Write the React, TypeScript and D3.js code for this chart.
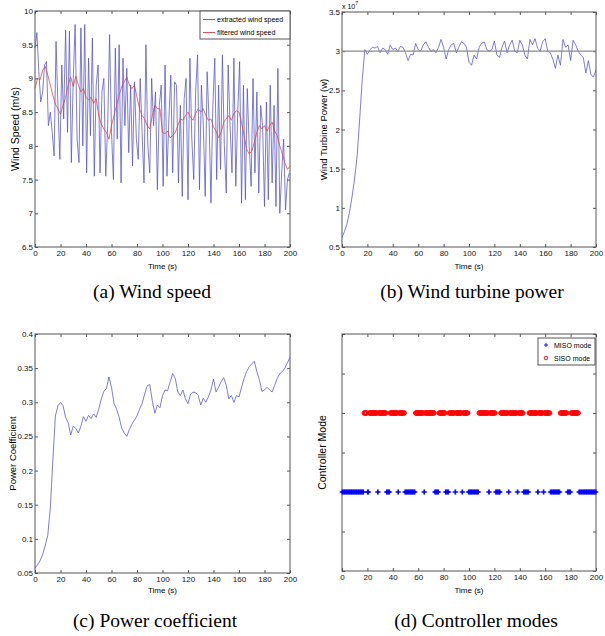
import { useEffect, useRef } from "react";
import * as d3 from "d3";

// ---- tick values ----
const TIME_TICKS = [0, 20, 40, 60, 80, 100, 120, 140, 160, 180, 200];
const SPEED_TICKS = [6.5, 7, 7.5, 8, 8.5, 9, 9.5, 10];
const POWER_TICKS = [0.5, 1, 1.5, 2, 2.5, 3, 3.5];
const CP_TICKS = [0.05, 0.1, 0.15, 0.2, 0.25, 0.3, 0.35, 0.4];
const MODE_TICKS = [0, 0.5, 1, 1.5, 2, 2.5, 3];

// ---- (a) wind speed, m/s ----
const EXTRACTED_STEP = 1.5;
const EXTRACTED_SPEED = [
  9.45, 9.68, 9.1, 8.65, 8.8, 9.2, 9.25, 8.3, 8.5, 8.2, 7.85, 9.55, 8.6, 7.8,
  9.2, 8.4, 9.72, 8.2, 9.7, 7.75, 9.0, 9.8, 8.1, 7.75, 9.75, 8.0, 9.8,
  7.6, 9.3, 8.15, 9.6, 7.55, 8.9, 9.2, 7.6, 8.8, 9.0, 7.55, 8.3, 9.65,
  8.2, 7.5, 9.45, 8.1, 9.5, 7.45, 9.3, 8.3, 9.15, 7.9, 8.9, 7.7, 8.95, 8.1,
  7.8, 9.0, 8.2, 7.45, 9.5, 8.0, 7.6, 9.0, 8.3, 8.8, 7.35, 8.6, 8.9,
  7.4, 9.2, 7.55, 8.4, 9.05, 7.6, 8.95, 8.9, 7.45, 8.6, 7.25, 8.7, 9.0,
  7.2, 9.3, 8.1, 7.5, 8.8, 9.35, 7.35, 8.9, 8.3, 7.25, 9.1, 8.4, 7.15, 8.6,
  9.3, 7.5, 8.9, 7.65, 9.35, 8.0, 7.3, 9.2, 8.3, 7.6, 9.3, 7.4, 8.5,
  9.25, 7.15, 8.9, 7.2, 8.85, 8.0, 7.4, 9.0, 7.6, 8.8, 7.3, 8.6, 8.3,
  7.1, 8.65, 7.2, 8.9, 7.45, 8.6, 7.1, 9.15, 7.0, 7.6, 8.1, 7.05, 7.5, 7.6,
];
const FILTERED_STEP = 2;
const FILTERED_SPEED = [
  8.85, 9.0, 8.98, 9.12, 9.18, 9.05, 8.9, 8.75, 8.62, 8.55,
  8.47, 8.6, 8.72, 8.9, 9.02, 8.88, 9.03, 8.9, 8.8, 8.85,
  8.72, 8.68, 8.72, 8.63, 8.7, 8.45, 8.32, 8.25, 8.2, 8.1,
  8.3, 8.45, 8.6, 8.75, 8.88, 8.95, 9.02, 8.9, 8.85, 8.9,
  8.72, 8.55, 8.45, 8.4, 8.3, 8.25, 8.45, 8.6, 8.55, 8.55,
  8.2, 8.18, 8.22, 8.12, 8.15, 8.2, 8.3, 8.4, 8.38, 8.45,
  8.5, 8.42, 8.38, 8.48, 8.55, 8.5, 8.55, 8.45, 8.38, 8.4,
  8.28, 8.22, 8.12, 8.2, 8.35, 8.4, 8.45, 8.38, 8.48, 8.52,
  8.5, 8.35, 8.15, 7.95, 7.88, 7.92, 8.05, 8.2, 8.3, 8.25,
  8.3, 8.22, 8.3, 8.35, 8.22, 8.15, 8.0, 7.88, 7.75, 7.65,
  7.7,
];

// ---- (b) wind turbine power, x10^7 W ----
const POWER_STEP = 2;
const TURBINE_POWER = [
  0.62, 0.7, 0.8, 0.95, 1.15, 1.38, 1.68, 2.15, 2.65, 3.02,
  2.96, 3.02, 3.05, 3.04, 3.06, 2.98, 3.04, 3.02, 2.96, 3.08,
  3.02, 3.04, 3.0, 3.06, 3.05, 2.98, 2.88, 2.96, 2.95, 3.1,
  3.02, 3.0, 3.08, 3.12, 3.05, 3.0, 3.02, 2.98, 3.05, 3.15,
  3.05, 2.9, 3.02, 3.08, 3.1, 2.98, 3.05, 3.12, 3.1, 3.05,
  2.86, 2.82, 2.95, 2.9, 3.05, 3.1, 3.12, 3.02, 3.0, 3.02,
  3.13, 2.95, 2.92, 3.05, 3.13, 2.98, 3.08, 3.14, 3.0, 2.98,
  3.14, 3.08, 2.95, 2.9, 3.15, 3.08, 3.16, 3.04, 3.0, 3.12,
  3.16, 3.0, 2.98, 2.9, 2.78, 2.95, 2.82, 3.15, 3.05, 3.08,
  2.88, 3.14, 3.08, 3.0, 2.95, 2.92, 2.72, 2.88, 2.7, 2.67,
  2.76,
];
const RATED_POWER = 3;

// ---- (c) power coefficient ----
const CP_STEP = 2;
const POWER_COEFF = [
  0.057, 0.062, 0.068, 0.077, 0.09, 0.105, 0.145, 0.215, 0.28, 0.295,
  0.3, 0.295, 0.278, 0.27, 0.252, 0.265, 0.262, 0.255, 0.265, 0.279,
  0.272, 0.281, 0.276, 0.283, 0.278, 0.29, 0.305, 0.316, 0.32, 0.337,
  0.322, 0.298, 0.29, 0.278, 0.262, 0.255, 0.25, 0.26, 0.268, 0.274,
  0.28, 0.29, 0.298, 0.312, 0.324, 0.326, 0.302, 0.284, 0.296, 0.292,
  0.31, 0.318, 0.317, 0.33, 0.342, 0.335, 0.315, 0.31, 0.318, 0.305,
  0.298, 0.312, 0.315, 0.314, 0.31, 0.296, 0.306, 0.3, 0.308, 0.318,
  0.334, 0.315, 0.322, 0.33, 0.336, 0.325, 0.305, 0.31, 0.3, 0.31,
  0.308, 0.322, 0.335, 0.345, 0.352, 0.356, 0.36, 0.345, 0.333, 0.316,
  0.318, 0.322, 0.318, 0.315, 0.325, 0.335, 0.342, 0.345, 0.35, 0.358,
  0.366,
];

// ---- (d) controller modes: time intervals (s) spent in each mode ----
const MODE_STEP = 0.5;
const MISO_LEVEL = 1;
const SISO_LEVEL = 2;
const MISO_RUNS: [number, number][] = [
  [0, 17], [20, 21], [28, 28.5], [35, 37.5], [44, 44.5], [49.5, 57.5],
  [64.5, 65], [73, 76], [81.5, 84], [89, 89.5], [94.5, 95], [99.5, 107.5],
  [115.5, 116], [121, 124.5], [131, 131.5], [138, 138.5], [143, 147],
  [154, 154.5], [158.5, 159], [164, 171.5], [177.5, 180], [186.5, 200],
];
const SISO_RUNS: [number, number][] = [
  [17.5, 19.5], [21.5, 27.5], [29, 34.5], [38, 43.5], [45, 49], [58, 64],
  [65.5, 72.5], [76.5, 81], [84.5, 88.5], [90, 94], [95.5, 99], [108, 115],
  [116.5, 120.5], [125, 130.5], [132, 137.5], [139, 142.5], [147.5, 153.5],
  [155, 158], [159.5, 163.5], [172, 177], [180.5, 186],
];

const BLUE = "#5252cc";
const RED = "#d84040";
const AXIS = "#555";
const SANS = "'Liberation Sans', Arial, sans-serif";
const NARROW = "'Liberation Sans Narrow', 'Arial Narrow', 'Liberation Sans', sans-serif";
const SERIF = "'Liberation Serif', 'Times New Roman', serif";

type Panel = {
  left: number; right: number; top: number; bottom: number;
  yDomain: [number, number]; yTicks: number[]; yTickLabels: boolean;
  yLabel: string; yLabelX: number; yLabelSize: number;
  xLabelY: number;
};

function drawFrame(svg: any, p: Panel) {
  const x = d3.scaleLinear().domain([0, 200]).range([p.left, p.right]);
  const y = d3.scaleLinear().domain(p.yDomain).range([p.bottom, p.top]);
  const g = svg.append("g");

  const style = (sel: any) => {
    sel.select(".domain").remove();
    sel.selectAll(".tick line").attr("stroke", AXIS);
    sel.attr("font-family", NARROW).attr("font-size", 8);
    sel.selectAll(".tick text").attr("fill", "#111");
  };
  const fmt = (d: any) => String(d);

  g.append("g").attr("transform", `translate(0,${p.bottom})`)
    .call(d3.axisBottom(x).tickValues(TIME_TICKS).tickSize(-3).tickPadding(3.5).tickFormat(fmt))
    .call(style);
  g.append("g").attr("transform", `translate(0,${p.top})`)
    .call(d3.axisTop(x).tickValues(TIME_TICKS).tickSize(-3).tickFormat(() => ""))
    .call(style);
  g.append("g").attr("transform", `translate(${p.left},0)`)
    .call(d3.axisLeft(y).tickValues(p.yTicks).tickSize(-3).tickPadding(2)
      .tickFormat(p.yTickLabels ? fmt : () => ""))
    .call(style);
  g.append("g").attr("transform", `translate(${p.right},0)`)
    .call(d3.axisRight(y).tickValues(p.yTicks).tickSize(-3).tickFormat(() => ""))
    .call(style);

  g.append("rect")
    .attr("x", p.left).attr("y", p.top)
    .attr("width", p.right - p.left).attr("height", p.bottom - p.top)
    .attr("fill", "none").attr("stroke", AXIS).attr("stroke-width", 1);

  // axis labels
  g.append("text")
    .attr("x", (p.left + p.right) / 2).attr("y", p.xLabelY)
    .attr("text-anchor", "middle").attr("font-family", SANS).attr("font-size", 8)
    .text("Time (s)");
  g.append("text")
    .attr("transform", `translate(${p.yLabelX},${(p.top + p.bottom) / 2}) rotate(-90)`)
    .attr("text-anchor", "middle").attr("font-family", SANS).attr("font-size", p.yLabelSize)
    .text(p.yLabel);

  return { x, y, g };
}

function series(values: number[], step: number) {
  return values.map((v, i) => ({ t: i * step, v }));
}

function runTimes(runs: [number, number][]) {
  const out: number[] = [];
  runs.forEach(([s, e]) => {
    for (let t = s; t <= e + 1e-9; t += MODE_STEP) out.push(t);
  });
  return out;
}

export default function App() {
  const svgRef = useRef<SVGSVGElement>(null);

  useEffect(() => {
    const svg = d3.select(svgRef.current);
    svg.selectAll("*").remove();

    const line = (x: any, y: any) =>
      d3.line<{ t: number; v: number }>().x((d) => x(d.t)).y((d) => y(d.v));

    // ----- (a) Wind speed -----
    const a = drawFrame(svg, {
      left: 35, right: 290, top: 11, bottom: 247,
      yDomain: [6.5, 10], yTicks: SPEED_TICKS, yTickLabels: true,
      yLabel: "Wind Speed (m/s)", yLabelX: 19, yLabelSize: 10.5, xLabelY: 269,
    });
    a.g.append("path").datum(series(EXTRACTED_SPEED, EXTRACTED_STEP))
      .attr("fill", "none").attr("stroke", BLUE).attr("stroke-width", 0.75)
      .attr("d", line(a.x, a.y));
    a.g.append("path").datum(series(FILTERED_SPEED, FILTERED_STEP))
      .attr("fill", "none").attr("stroke", RED).attr("stroke-width", 0.75)
      .attr("d", line(a.x, a.y));

    const legA = a.g.append("g").attr("transform", "translate(200,11)");
    legA.append("rect").attr("width", 90).attr("height", 28)
      .attr("fill", "#fff").attr("stroke", AXIS);
    [{ c: BLUE, t: "extracted wind speed" }, { c: RED, t: "filtered wind speed" }]
      .forEach((e, i) => {
        const yy = 8.5 + i * 13;
        legA.append("line").attr("x1", 3).attr("x2", 15).attr("y1", yy).attr("y2", yy)
          .attr("stroke", e.c).attr("stroke-width", 0.9);
        legA.append("text").attr("x", 17).attr("y", yy + 2.5)
          .attr("font-family", SANS).attr("font-size", 7).text(e.t);
      });

    // ----- (b) Wind turbine power -----
    const b = drawFrame(svg, {
      left: 342, right: 596, top: 12, bottom: 247,
      yDomain: [0.5, 3.5], yTicks: POWER_TICKS, yTickLabels: true,
      yLabel: "Wind Turbine Power (w)", yLabelX: 327, yLabelSize: 9.5, xLabelY: 269,
    });
    b.g.append("path").datum(series(TURBINE_POWER, POWER_STEP))
      .attr("fill", "none").attr("stroke", BLUE).attr("stroke-width", 0.75)
      .attr("d", line(b.x, b.y));
    b.g.append("line")
      .attr("x1", b.x(0)).attr("x2", b.x(200))
      .attr("y1", b.y(RATED_POWER)).attr("y2", b.y(RATED_POWER))
      .attr("stroke", "#8a8a8a").attr("stroke-width", 1.4);
    const expo = b.g.append("text").attr("x", 342).attr("y", 9)
      .attr("font-family", SANS).attr("font-size", 7);
    expo.append("tspan").text("x 10");
    expo.append("tspan").attr("dy", -4).attr("font-size", 5).text("7");

    // ----- (c) Power coefficient -----
    const c = drawFrame(svg, {
      left: 35, right: 290, top: 334, bottom: 573,
      yDomain: [0.05, 0.4], yTicks: CP_TICKS, yTickLabels: true,
      yLabel: "Power Coefficient", yLabelX: 16, yLabelSize: 9.5, xLabelY: 593,
    });
    c.g.append("path").datum(series(POWER_COEFF, CP_STEP))
      .attr("fill", "none").attr("stroke", BLUE).attr("stroke-width", 0.75)
      .attr("d", line(c.x, c.y));

    // ----- (d) Controller modes -----
    const d = drawFrame(svg, {
      left: 342, right: 596, top: 334, bottom: 571,
      yDomain: [0, 3], yTicks: MODE_TICKS, yTickLabels: false,
      yLabel: "Controller Mode", yLabelX: 326, yLabelSize: 10.5, xLabelY: 593,
    });
    d.g.append("g").selectAll("path")
      .data(runTimes(MISO_RUNS))
      .join("path")
      .attr("transform", (t) => `translate(${d.x(t)},${d.y(MISO_LEVEL)})`)
      .attr("d", "M-2.5,0H2.5M0,-2.5V2.5")
      .attr("stroke", "#0000ff").attr("stroke-width", 1).attr("fill", "none");
    d.g.append("g").selectAll("circle")
      .data(runTimes(SISO_RUNS))
      .join("circle")
      .attr("cx", (t) => d.x(t)).attr("cy", d.y(SISO_LEVEL)).attr("r", 2.2)
      .attr("stroke", "#ff0000").attr("stroke-width", 1).attr("fill", "none");

    const legD = d.g.append("g").attr("transform", "translate(538,338)");
    legD.append("rect").attr("width", 57).attr("height", 27)
      .attr("fill", "#fff").attr("stroke", AXIS);
    legD.append("path").attr("transform", "translate(8,7)")
      .attr("d", "M-2,0H2M0,-2V2").attr("stroke", "#0000ff").attr("stroke-width", 0.9);
    legD.append("circle").attr("cx", 8).attr("cy", 20).attr("r", 1.8)
      .attr("fill", "none").attr("stroke", "#ff0000").attr("stroke-width", 0.9);
    legD.append("text").attr("x", 16).attr("y", 9.5)
      .attr("font-family", SANS).attr("font-size", 7).text("MISO mode");
    legD.append("text").attr("x", 16).attr("y", 22.5)
      .attr("font-family", SANS).attr("font-size", 7).text("SISO mode");

    // ----- captions -----
    const captions = [
      { x: 152, y: 298, t: "(a) Wind speed" },
      { x: 472, y: 298, t: "(b) Wind turbine power" },
      { x: 155, y: 627, t: "(c) Power coefficient" },
      { x: 476, y: 627, t: "(d) Controller modes" },
    ];
    captions.forEach((cp) => {
      svg.append("text").attr("x", cp.x).attr("y", cp.y)
        .attr("text-anchor", "middle").attr("font-family", SERIF)
        .attr("font-size", 19.5).attr("fill", "#000").text(cp.t);
    });
  }, []);

  return (
    <svg
      ref={svgRef}
      width={605}
      height={636}
      style={{ position: "absolute", left: 0, top: 0, background: "#fff" }}
    />
  );
}
